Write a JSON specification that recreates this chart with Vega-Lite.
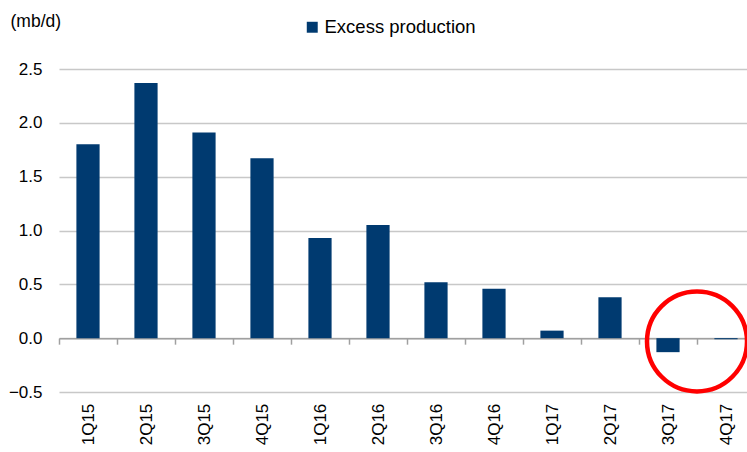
{
  "$schema": "https://vega.github.io/schema/vega-lite/v6.json",
  "autosize": {"type": "none"},
  "padding": {"left": 59, "top": 69, "right": -8, "bottom": 60},
  "width": 696,
  "height": 323,
  "config": {
    "view": {"stroke": null},
    "font": "Liberation Sans",
    "axis": {"labelFont": "Liberation Sans", "titleFont": "Liberation Sans", "labelColor": "#000000", "titleColor": "#000000"},
    "legend": {"labelFont": "Liberation Sans"}
  },
  "layer": [
    {
      "data": {"values": [
        {"q": "1Q15", "v": 1.80, "s": "Excess production"},
        {"q": "2Q15", "v": 2.37, "s": "Excess production"},
        {"q": "3Q15", "v": 1.91, "s": "Excess production"},
        {"q": "4Q15", "v": 1.67, "s": "Excess production"},
        {"q": "1Q16", "v": 0.93, "s": "Excess production"},
        {"q": "2Q16", "v": 1.05, "s": "Excess production"},
        {"q": "3Q16", "v": 0.52, "s": "Excess production"},
        {"q": "4Q16", "v": 0.46, "s": "Excess production"},
        {"q": "1Q17", "v": 0.07, "s": "Excess production"},
        {"q": "2Q17", "v": 0.38, "s": "Excess production"},
        {"q": "3Q17", "v": -0.13, "s": "Excess production"},
        {"q": "4Q17", "v": -0.01, "s": "Excess production"}
      ]},
      "mark": {"type": "bar", "width": {"band": 0.4}},
      "encoding": {
        "x": {
          "field": "q", "type": "ordinal", "sort": null,
          "scale": {"paddingInner": 0, "paddingOuter": 0},
          "axis": {
            "title": null, "grid": false, "offset": -53.83,
            "domain": true, "domainColor": "#a0a0a0", "domainWidth": 1.5,
            "ticks": true, "tickColor": "#a0a0a0", "tickWidth": 1.5, "tickSize": 6, "tickBand": "extent",
            "labelAngle": -90, "labelAlign": "right", "labelBaseline": "middle",
            "labelPadding": 59, "labelFontSize": 17
          }
        },
        "y": {
          "field": "v", "type": "quantitative",
          "scale": {"domain": [-0.5, 2.5], "nice": false, "zero": false},
          "axis": {
            "values": [-0.5, 0, 0.5, 1, 1.5, 2, 2.5], "format": ".1f",
            "domain": false, "ticks": false, "grid": true, "gridColor": "#c8c8c8", "gridWidth": 1.5,
            "labelFontSize": 17, "labelPadding": 17,
            "title": "(mb/d)", "titleAngle": 0, "titleAlign": "left", "titleBaseline": "middle",
            "titleX": -49, "titleY": -48, "titleFontSize": 17.5, "titleFontWeight": "normal"
          }
        },
        "color": {
          "field": "s", "type": "nominal",
          "scale": {"range": ["#003A70"]},
          "legend": {
            "title": null, "orient": "none", "legendX": 244, "legendY": -51,
            "symbolType": "square", "symbolSize": 120, "symbolStrokeWidth": 0,
            "labelFontSize": 18.5, "labelColor": "#000000", "padding": 0, "labelOffset": 3
          }
        }
      }
    },
    {
      "data": {"values": [{"q": "3Q17", "v": -0.03}]},
      "mark": {"type": "point", "shape": "circle", "filled": false, "color": "#ff0000", "strokeWidth": 4.5, "size": 10000, "opacity": 1},
      "encoding": {
        "x": {"field": "q", "type": "ordinal", "sort": null, "bandPosition": 1},
        "y": {"field": "v", "type": "quantitative"}
      }
    }
  ]
}
